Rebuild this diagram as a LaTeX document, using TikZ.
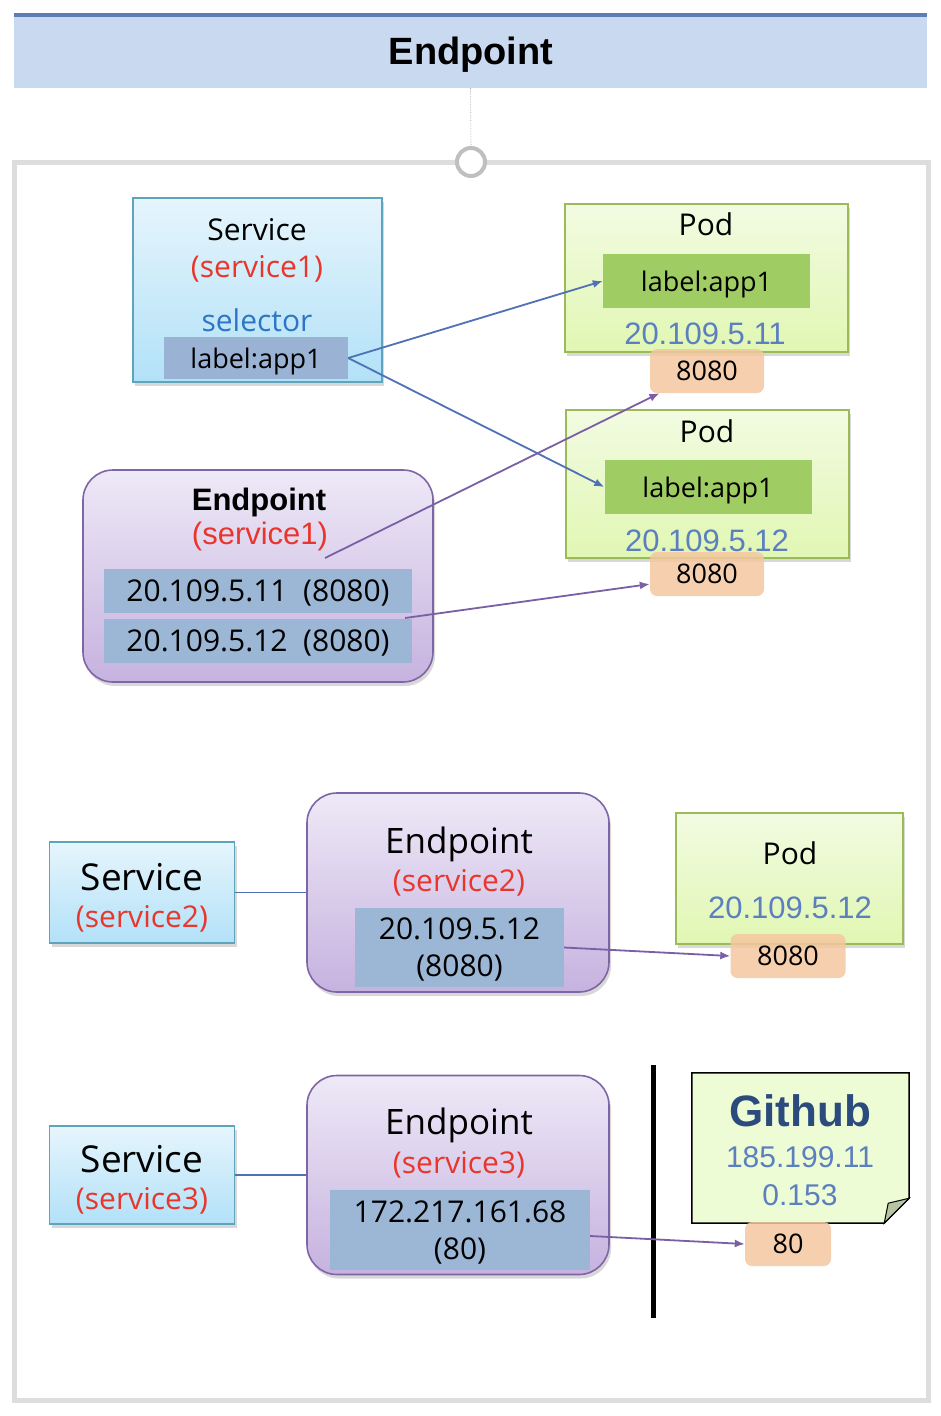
\documentclass[tikz,border=0pt]{standalone}
\usepackage{fontspec}
\setmainfont{Open Sans}
\newfontfamily\arialfont{Liberation Sans}
\usetikzlibrary{arrows.meta,shadows}

\definecolor{hdrfill}{HTML}{C9D9EF}
\definecolor{hdrline}{HTML}{5A7FB5}
\definecolor{framegray}{HTML}{DDDDDD}
\definecolor{svcline}{HTML}{5FA4BD}
\definecolor{svctop}{HTML}{E6F5FC}
\definecolor{svcbot}{HTML}{B2E1F8}
\definecolor{selfill}{HTML}{9AB2D4}
\definecolor{podline}{HTML}{9BBB59}
\definecolor{podtop}{HTML}{F2FBE2}
\definecolor{podbot}{HTML}{E1F7B3}
\definecolor{lblgreen}{HTML}{A0CD63}
\definecolor{portfill}{HTML}{F4C7A0}
\definecolor{epline}{HTML}{7E66A6}
\definecolor{eptop}{HTML}{EEE9F7}
\definecolor{epbot}{HTML}{C6B2DF}
\definecolor{ipfill}{HTML}{9CB7D6}
\definecolor{linkblue}{HTML}{4F71B5}
\definecolor{linkpurple}{HTML}{7A5FA5}
\definecolor{svcred}{HTML}{E8362C}
\definecolor{selblue}{HTML}{2F75C5}
\definecolor{ipblue}{HTML}{5B7FBF}
\definecolor{ghblue}{HTML}{2B4B7D}
\definecolor{notefill}{HTML}{EDFCD4}
\definecolor{foldfill}{HTML}{B5C5A4}

\begin{document}
\begin{tikzpicture}[x=1pt,y=-1pt,
    every node/.style={inner sep=0pt, text depth=0pt},
    sz/.style={font=\fontsize{#1}{#1}\selectfont},
    arial/.style={font=\arialfont\fontsize{#1}{#1}\selectfont},
    shade/.style={drop shadow={opacity=.3,shadow xshift=2pt,shadow yshift=-4pt}},
    service/.style={draw=svcline, line width=1.8pt, top color=svctop, bottom color=svcbot, shade},
    pod/.style={draw=podline, line width=1.8pt, top color=podtop, bottom color=podbot, shade},
    endpt/.style={draw=epline, line width=1.6pt, rounded corners=30pt, top color=eptop, bottom color=epbot, shade},
    selbox/.style={fill=selfill, minimum width=184pt, minimum height=42pt, sz=27},
    podlbl/.style={fill=lblgreen, minimum width=207pt, minimum height=54pt, sz=27},
    iprow/.style={fill=ipfill, minimum width=308pt, minimum height=44pt, sz=30},
    port/.style={fill=portfill, fill opacity=.85, text opacity=1, rounded corners=7pt, minimum height=44pt, sz=27},
    link/.style={-{Latex[length=10pt,width=8pt]}, line width=1.8pt, draw=linkblue},
    plink/.style={link, draw=linkpurple}]

    \useasboundingbox (0,0) rectangle (940,1416);
    \fill[white] (0,0) rectangle (940,1416);

    % title bar
    \node[fill=hdrfill, minimum width=913pt, minimum height=71pt] (hdr) at (470.5,52.5) {};
    \draw[hdrline, line width=4pt] ([yshift=2pt]hdr.north west) -- ([yshift=2pt]hdr.north east);
    \node[font=\arialfont\bfseries\fontsize{38}{38}\selectfont] (title) at (471,51) {Endpoint};

    % frame
    \node[draw=framegray, line width=5pt, minimum width=914pt, minimum height=1238pt] (frame) at (471,781) {};
    \node[circle, draw=gray!50, line width=4pt, fill=white, minimum size=28pt] (knob) at (471,162) {};
    \draw[densely dotted, gray!70, line width=.6pt] (hdr.south) -- (knob.north);

    % service1
    \node[service, minimum width=249pt, minimum height=184pt] (svc1) at (257.5,290) {};
    \node[sz=30] (svc1a) at (257,229) {Service};
    \node[sz=30, text=svcred] (svc1b) at (257,266) {(service1)};
    \node[sz=30, text=selblue] (sel1) at (257,320) {selector};
    \node[selbox] (sl1) at (256,358) {label:app1};

    % pods
    \node[pod, minimum width=283pt, minimum height=148pt] (pod1) at (706.5,278) {};
    \node[sz=30] (pod1a) at (706,224) {Pod};
    \node[podlbl] (pl1) at (706.5,281) {label:app1};
    \node[arial=31, text=ipblue] (pod1ip) at (705,334) {20.109.5.11};
    \node[port, minimum width=114pt] (port1) at (707,371) {8080};

    \node[pod, minimum width=283pt, minimum height=148pt] (pod2) at (707.5,484) {};
    \node[sz=30] (pod2a) at (707,431) {Pod};
    \node[podlbl] (pl2) at (708,487) {label:app1};
    \node[arial=31, text=ipblue] (pod2ip) at (707,541) {20.109.5.12};
    \node[port, minimum width=114pt] (port2) at (707,574) {8080};

    % endpoint1
    \node[endpt, minimum width=350pt, minimum height=212pt] (ep1) at (258,576) {};
    \node[font=\arialfont\bfseries\fontsize{31}{31}\selectfont] (ep1a) at (259,499) {Endpoint};
    \node[arial=31, text=svcred] (ep1b) at (260,533) {(service1)};
    \node[iprow] (ip11) at (258,591) {20.109.5.11\ \ (8080)};
    \node[iprow] (ip12) at (258,641) {20.109.5.12\ \ (8080)};
    \coordinate (ep1from) at (325,558);
    \coordinate (ip12from) at (405,618);

    \draw[link] (sl1.east) -- (pl1.west);
    \draw[link] (sl1.east) -- (pl2.west);
    \draw[plink] (ep1from) -- (port1.205);
    \draw[plink] (ip12from) -- (port2.190);

    % service2
    \node[service, minimum width=185pt, minimum height=101pt] (svc2) at (142,892.5) {};
    \node[sz=37] (svc2a) at (142,877) {Service};
    \node[sz=30, text=svcred] (svc2b) at (142,916) {(service2)};
    \node[endpt, minimum width=302pt, minimum height=199pt] (ep2) at (458,892.5) {};
    \node[sz=35] (ep2a) at (459,840) {Endpoint};
    \node[sz=30, text=svcred] (ep2b) at (459,880) {(service2)};
    \node[fill=ipfill, minimum width=209pt, minimum height=79pt, align=center, font=\fontsize{30}{37}\selectfont] (ip2) at (459.5,947.5) {20.109.5.12\\(8080)};
    \node[pod, minimum width=227pt, minimum height=131pt] (pod3) at (789.5,878.5) {};
    \node[sz=30] (pod3a) at (790,853) {Pod};
    \node[arial=31, text=ipblue] (pod3ip) at (790,908) {20.109.5.12};
    \node[port, minimum width=115pt] (port3) at (788,956) {8080};

    \draw[linkblue, line width=1.6pt] (svc2.east) -- (ep2.west);
    \draw[plink] (ip2.east) -- (port3.west);

    % service3
    \node[service, minimum width=185pt, minimum height=98pt] (svc3) at (142,1175) {};
    \node[sz=37] (svc3a) at (142,1159) {Service};
    \node[sz=30, text=svcred] (svc3b) at (142,1198) {(service3)};
    \node[endpt, minimum width=302pt, minimum height=199pt] (ep3) at (458,1175) {};
    \node[sz=35] (ep3a) at (459,1121) {Endpoint};
    \node[sz=30, text=svcred] (ep3b) at (459,1162) {(service3)};
    \node[fill=ipfill, minimum width=260pt, minimum height=80pt, align=center, font=\fontsize{30}{37}\selectfont] (ip3) at (460,1230) {172.217.161.68\\(80)};

    % outside
    \draw[line width=5pt] (653,1065) -- (653,1318);
    \node[minimum width=217pt, minimum height=150pt] (gh) at (800.5,1148) {};
    \draw[line width=1.5pt, fill=notefill] (gh.north west) -- (gh.north east) -- ([yshift=25pt]gh.south east)
        -- ([xshift=-25pt]gh.south east) -- (gh.south west) -- cycle;
    \draw[line width=1pt, fill=foldfill] ([yshift=25pt]gh.south east) -- ([xshift=-25pt]gh.south east)
        -- ([xshift=-21pt,yshift=20pt]gh.south east) -- cycle;
    \node[font=\arialfont\bfseries\fontsize{44}{44}\selectfont, text=ghblue] (gha) at (800,1111) {Github};
    \node[arial=30, text=ipblue] (ghb) at (800,1157) {185.199.11};
    \node[arial=30, text=ipblue] (ghc) at (800,1195) {0.153};
    \node[port, minimum width=86pt] (port4) at (788,1244) {80};

    \draw[linkblue, line width=1.6pt] (svc3.east) -- (ep3.west);
    \draw[plink] ([yshift=-6pt]ip3.east) -- (port4.west);

\end{tikzpicture}
\end{document}
